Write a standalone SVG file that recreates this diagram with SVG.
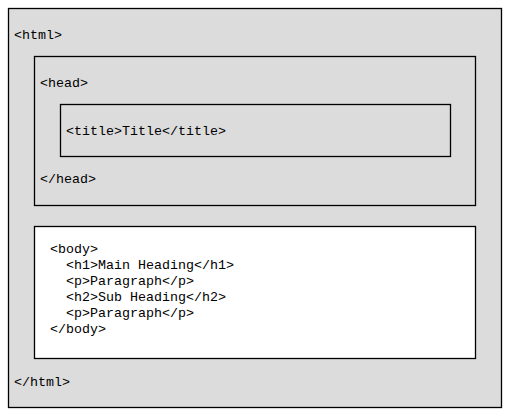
<svg xmlns="http://www.w3.org/2000/svg" width="511" height="416" viewBox="0 0 511 416">
<style>
.box{stroke:#000;stroke-width:1.3}
.g{fill:#dcdcdc}
.w{fill:#fff}
text{font-family:"Liberation Mono","Courier New",monospace;font-size:13.33px;fill:#000}
</style>
<rect width="511" height="416" fill="#fff"/>
<g id="html">
<rect class="box g" x="8.5" y="8.5" width="493" height="399"/>
<text x="14" y="39">&lt;html&gt;</text>
<text x="14" y="386">&lt;/html&gt;</text>
</g>
<g id="head">
<rect class="box g" x="34.5" y="56.5" width="441" height="149"/>
<text x="40" y="87">&lt;head&gt;</text>
<text x="40" y="183">&lt;/head&gt;</text>
</g>
<g id="title">
<rect class="box g" x="60.5" y="104.5" width="390" height="52"/>
<text x="66" y="135">&lt;title&gt;Title&lt;/title&gt;</text>
</g>
<g id="body">
<rect class="box w" x="34.5" y="226.5" width="441" height="132"/>
<text x="50" y="253">&lt;body&gt;</text>
<text x="66" y="269">&lt;h1&gt;Main Heading&lt;/h1&gt;</text>
<text x="66" y="285">&lt;p&gt;Paragraph&lt;/p&gt;</text>
<text x="66" y="301">&lt;h2&gt;Sub Heading&lt;/h2&gt;</text>
<text x="66" y="317">&lt;p&gt;Paragraph&lt;/p&gt;</text>
<text x="50" y="333">&lt;/body&gt;</text>
</g>
<g id="connectors"></g>
</svg>
